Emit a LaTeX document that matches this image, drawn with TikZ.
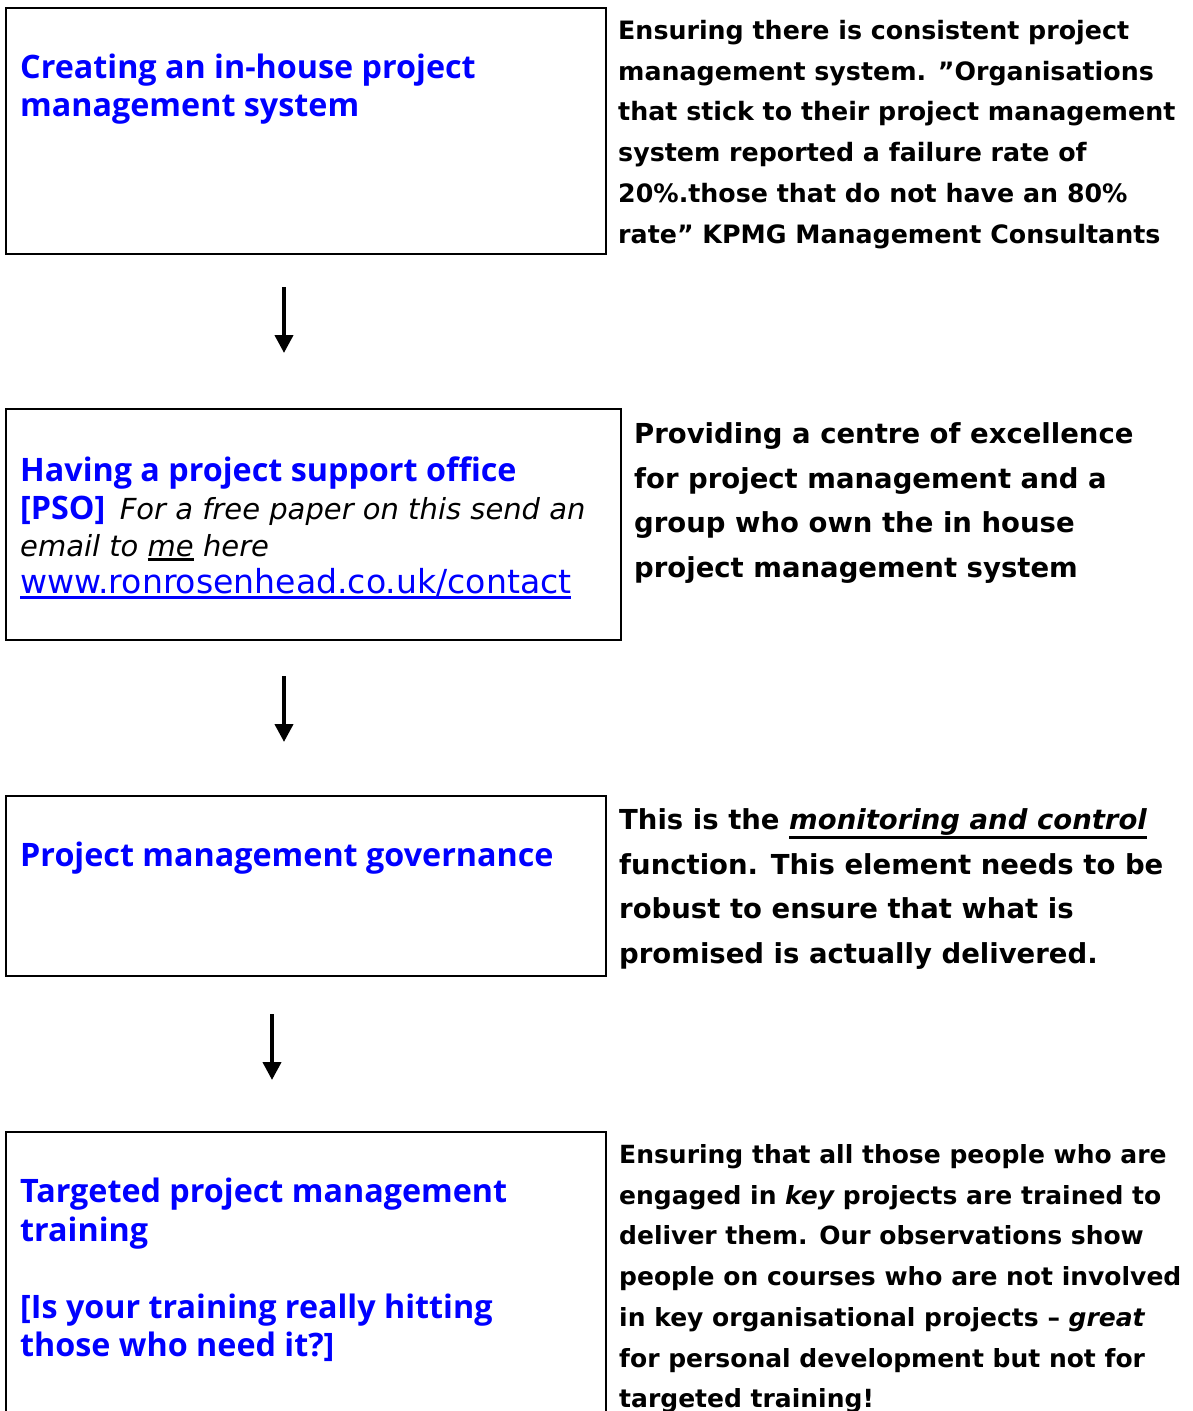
\documentclass[tikz,border=0pt]{standalone}
\usepackage{fontspec}
\usetikzlibrary{arrows.meta}
\newfontfamily\bluef{Open Sans}
\newfontfamily\blackf{DejaVu Sans}
\definecolor{tblue}{RGB}{0,0,255}
\newsavebox\myulbox
\newcommand\myul[2][5.7pt]{\sbox\myulbox{#2}\rlap{\rule[-#1]{\wd\myulbox}{2.4pt}}\usebox\myulbox}
\newcommand\emailit{\blackf\mdseries\itshape\fontsize{29}{38}\selectfont}
\tikzset{
  box/.style={draw, line width=2.2pt, inner sep=0pt, anchor=north west},
  btext/.style={anchor=base west, inner sep=0pt, text=tblue, font=\bluef\bfseries\fontsize{32.3}{38}\selectfont},
  ktext/.style={anchor=base west, inner sep=0pt, text=black, font=\blackf\bfseries\fontsize{25.3}{40}\selectfont},
  ktextD/.style={anchor=base west, inner sep=0pt, text=black, font=\blackf\bfseries\fontsize{25}{40}\selectfont},
  ktextL/.style={anchor=base west, inner sep=0pt, text=black, font=\blackf\bfseries\fontsize{27.5}{45}\selectfont},
  flow/.style={line width=4pt, -{Triangle[width=18pt,length=18pt]}}
}
\begin{document}
\begin{tikzpicture}[x=1pt,y=-1pt]
\path[fill=white] (0,0) rectangle (1192,1411);
\path[clip] (0,0) rectangle (1192,1411);
% boxes
\node[box, minimum width=600pt, minimum height=246pt] (box1) at (5,7) {};
\node[box, minimum width=615pt, minimum height=231pt] (box2) at (5,408) {};
\node[box, minimum width=600pt, minimum height=180pt] (box3) at (5,795) {};
\node[box, minimum width=600pt, minimum height=320pt] (box4) at (5,1131) {};
% arrows
\coordinate (a1s) at (284,287); \coordinate (a1e) at (284,353);
\coordinate (a2s) at (284,676); \coordinate (a2e) at (284,742);
\coordinate (a3s) at (272,1014); \coordinate (a3e) at (272,1080);
\draw[flow] (a1s) -- (a1e);
\draw[flow] (a2s) -- (a2e);
\draw[flow] (a3s) -- (a3e);
% box 1
\node[btext] (t1a) at (20,78) {Creating an in-house project};
\node[btext] (t1b) at (20,116) {management system};
% block A
\node[ktext] (k1a) at (618,39) {Ensuring there is consistent project};
\node[ktext] (k1b) at (618,80) {management system. ”Organisations};
\node[ktext] (k1c) at (618,120) {that stick to their project management};
\node[ktext] (k1d) at (618,161) {system reported a failure rate of};
\node[ktext] (k1e) at (618,202) {20\%.those that do not have an 80\%};
\node[ktext] (k1f) at (618,243) {rate” KPMG Management Consultants};
% box 2
\node[btext] (t2a) at (20,481) {Having a project support office};
\node[btext] (t2b) at (20,519) {[PSO]\hspace{6pt} {\color{black}\emailit For a free paper on this send an}};
\node[btext, text=black] (t2c) at (20,556) {\emailit email to \myul[4.5pt]{me} here};
\node[btext] (t2d) at (20,593) {\blackf\mdseries\fontsize{33.1}{38}\selectfont\myul{www.ronrosenhead.co.uk/contact}};
% block B
\node[ktextL] (k2a) at (634,443) {Providing a centre of excellence};
\node[ktextL] (k2b) at (634,488) {for project management and a};
\node[ktextL] (k2c) at (634,532) {group who own the in house};
\node[ktextL] (k2d) at (634,577) {project management system};
% box 3
\node[btext] (t3a) at (20,866) {Project management governance};
% block C
\node[ktextL] (k3a) at (619,829) {This is the \myul[9.6pt]{\itshape monitoring and control}};
\node[ktextL] (k3b) at (619,874) {function. This element needs to be};
\node[ktextL] (k3c) at (619,918) {robust to ensure that what is};
\node[ktextL] (k3d) at (619,963) {promised is actually delivered.};
% box 4
\node[btext] (t4a) at (20,1202) {Targeted project management};
\node[btext] (t4b) at (20,1241) {training};
\node[btext] (t4c) at (20,1318) {[Is your training really hitting};
\node[btext] (t4d) at (20,1356) {those who need it?]};
% block D
\node[ktextD] (k4a) at (619,1163) {Ensuring that all those people who are};
\node[ktextD] (k4b) at (619,1204) {engaged in {\itshape key} projects are trained to};
\node[ktextD] (k4c) at (619,1244) {deliver them. Our observations show};
\node[ktextD] (k4d) at (619,1285) {people on courses who are not involved};
\node[ktextD] (k4e) at (619,1326) {in key organisational projects – {\itshape great}};
\node[ktextD] (k4f) at (619,1367) {for personal development but not for};
\node[ktextD] (k4g) at (619,1407) {targeted training!};
\end{tikzpicture}
\end{document}
